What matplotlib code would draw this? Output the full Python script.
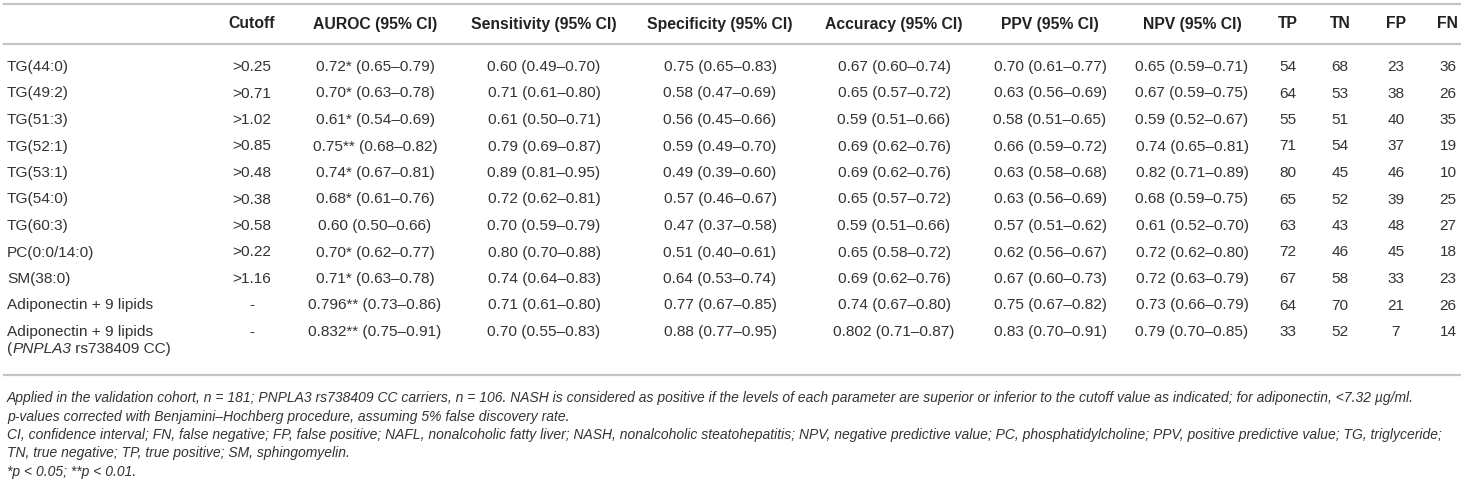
import matplotlib
matplotlib.use("Agg")
import matplotlib.pyplot as plt
from matplotlib.lines import Line2D

# ---------------- data ----------------
columns = ["Cutoff", "AUROC (95% CI)", "Sensitivity (95% CI)", "Specificity (95% CI)",
           "Accuracy (95% CI)", "PPV (95% CI)", "NPV (95% CI)", "TP", "TN", "FP", "FN"]
names = ["TG(44:0)", "TG(49:2)", "TG(51:3)", "TG(52:1)", "TG(53:1)", "TG(54:0)",
         "TG(60:3)", "PC(0:0/14:0)", "SM(38:0)", "Adiponectin + 9 lipids",
         "Adiponectin + 9 lipids"]
# second line of a label, as (text, italic) pieces
name_second_line = [[], [], [], [], [], [], [], [], [], [],
                     [("(", False), ("PNPLA3", True), (" rs738409 CC)", False)]]
cutoff = [">0.25", ">0.71", ">1.02", ">0.85", ">0.48", ">0.38", ">0.58", ">0.22",
          ">1.16", "-", "-"]
auroc = ["0.72* (0.65–0.79)", "0.70* (0.63–0.78)", "0.61* (0.54–0.69)",
         "0.75** (0.68–0.82)", "0.74* (0.67–0.81)", "0.68* (0.61–0.76)",
         "0.60 (0.50–0.66)", "0.70* (0.62–0.77)", "0.71* (0.63–0.78)",
         "0.796** (0.73–0.86)", "0.832** (0.75–0.91)"]
sensitivity = ["0.60 (0.49–0.70)", "0.71 (0.61–0.80)", "0.61 (0.50–0.71)",
               "0.79 (0.69–0.87)", "0.89 (0.81–0.95)", "0.72 (0.62–0.81)",
               "0.70 (0.59–0.79)", "0.80 (0.70–0.88)", "0.74 (0.64–0.83)",
               "0.71 (0.61–0.80)", "0.70 (0.55–0.83)"]
specificity = ["0.75 (0.65–0.83)", "0.58 (0.47–0.69)", "0.56 (0.45–0.66)",
               "0.59 (0.49–0.70)", "0.49 (0.39–0.60)", "0.57 (0.46–0.67)",
               "0.47 (0.37–0.58)", "0.51 (0.40–0.61)", "0.64 (0.53–0.74)",
               "0.77 (0.67–0.85)", "0.88 (0.77–0.95)"]
accuracy = ["0.67 (0.60–0.74)", "0.65 (0.57–0.72)", "0.59 (0.51–0.66)",
            "0.69 (0.62–0.76)", "0.69 (0.62–0.76)", "0.65 (0.57–0.72)",
            "0.59 (0.51–0.66)", "0.65 (0.58–0.72)", "0.69 (0.62–0.76)",
            "0.74 (0.67–0.80)", "0.802 (0.71–0.87)"]
ppv = ["0.70 (0.61–0.77)", "0.63 (0.56–0.69)", "0.58 (0.51–0.65)",
       "0.66 (0.59–0.72)", "0.63 (0.58–0.68)", "0.63 (0.56–0.69)",
       "0.57 (0.51–0.62)", "0.62 (0.56–0.67)", "0.67 (0.60–0.73)",
       "0.75 (0.67–0.82)", "0.83 (0.70–0.91)"]
npv = ["0.65 (0.59–0.71)", "0.67 (0.59–0.75)", "0.59 (0.52–0.67)",
       "0.74 (0.65–0.81)", "0.82 (0.71–0.89)", "0.68 (0.59–0.75)",
       "0.61 (0.52–0.70)", "0.72 (0.62–0.80)", "0.72 (0.63–0.79)",
       "0.73 (0.66–0.79)", "0.79 (0.70–0.85)"]
tp = [54, 64, 55, 71, 80, 65, 63, 72, 67, 64, 33]
tn = [68, 53, 51, 54, 45, 52, 43, 46, 58, 70, 52]
fp = [23, 38, 40, 37, 46, 39, 48, 45, 33, 21, 7]
fn = [36, 26, 35, 19, 10, 25, 27, 18, 23, 26, 14]

footnotes = [
    "Applied in the validation cohort, n = 181; PNPLA3 rs738409 CC carriers, n = 106. NASH is considered as positive if the levels of each parameter are superior or inferior to the cutoff value as indicated; for adiponectin, <7.32 µg/ml.",
    "p-values corrected with Benjamini–Hochberg procedure, assuming 5% false discovery rate.",
    "CI, confidence interval; FN, false negative; FP, false positive; NAFL, nonalcoholic fatty liver; NASH, nonalcoholic steatohepatitis; NPV, negative predictive value; PC, phosphatidylcholine; PPV, positive predictive value; TG, triglyceride;",
    "TN, true negative; TP, true positive; SM, sphingomyelin.",
    "*p < 0.05; **p < 0.01.",
]

# ---------------- layout ----------------
W, H = 1461, 483
fig = plt.figure(figsize=(W / 100, H / 100), dpi=100)
ax = fig.add_axes([0, 0, 1, 1])
ax.set_xlim(0, W)
ax.set_ylim(H, 0)
ax.axis("off")
renderer = fig.canvas.get_renderer()

col_x = [252, 375, 544, 720, 894, 1050, 1192, 1288, 1340, 1396, 1448]
header_y = 24
row_y0, row_step = 67, 26.5
second_line_dy = 17
rule_color = "#c4c4c4"
body_color = "#333333"
body_font = ["Liberation Sans", "DejaVu Sans"]
body_size = 11.1
head_size = 11.3

for yy in (4, 44, 375):
    ax.add_line(Line2D([4, W], [yy, yy], color=rule_color, lw=1.6))

for x, c in zip(col_x, columns):
    ax.text(x, header_y, c, ha="center", va="center", fontsize=head_size,
            fontweight="bold", color="#222222", family=body_font)

table_cols = [cutoff, auroc, sensitivity, specificity, accuracy, ppv, npv,
              tp, tn, fp, fn]
for i, nm in enumerate(names):
    y = row_y0 + i * row_step
    ax.text(7, y, nm, ha="left", va="center", fontsize=body_size,
            color=body_color, family=body_font)
    xcur = 7
    for piece, ital in name_second_line[i]:
        t = ax.text(xcur, y + second_line_dy, piece, ha="left", va="center",
                    fontsize=body_size, color=body_color, family=body_font,
                    style="italic" if ital else "normal")
        bb = t.get_window_extent(renderer=renderer)
        xcur += bb.width  # pixels == data units here (1 unit = 1 px)
    for x, col in zip(col_x, table_cols):
        ax.text(x, y, str(col[i]), ha="center", va="center", fontsize=body_size,
                color=body_color, family=body_font)

foot_y0, foot_step = 398, 18.5
for k, line in enumerate(footnotes):
    ax.text(7, foot_y0 + k * foot_step, line, ha="left", va="center",
            fontsize=10.0, style="italic", color=body_color, family=body_font)

fig.savefig("out.png", dpi=100)
